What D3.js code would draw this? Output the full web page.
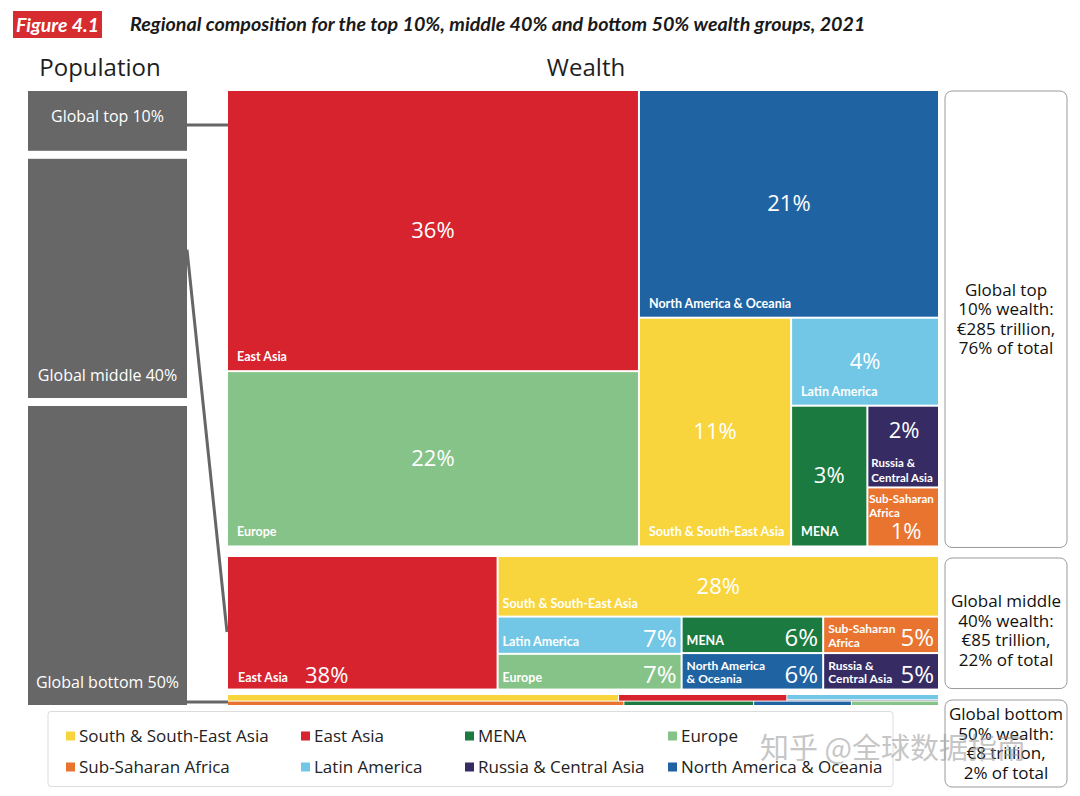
<!DOCTYPE html>
<html>
<head>
<meta charset="utf-8">
<script src="https://cdn.jsdelivr.net/npm/d3@7"></script>
<style>
  body { margin: 0; background: #fff; }
  svg { display: block; font-family: "Open Sans", sans-serif; }
</style>
</head>
<body>
<svg id="chart" width="1080" height="796"></svg>
<script>
// ---- data ----
// regions in legend order
var regions = ["South & South-East Asia", "East Asia", "MENA", "Europe",
  "Sub-Saharan Africa", "Latin America", "Russia & Central Asia", "North America & Oceania"];
var regionColors = ["#f8d53c", "#d7232e", "#1b7a40", "#86c388",
  "#e8742f", "#72c7e7", "#362c63", "#1f63a3"];

// population groups and their share of wealth
var groups = ["Global top 10%", "Global middle 40%", "Global bottom 50%"];
var popShare = [10, 40, 50];
var wealthShare = [76, 22, 2];
var wealthNotes = [
  ["Global top", "10% wealth:", "€285 trillion,", "76% of total"],
  ["Global middle", "40% wealth:", "€85 trillion,", "22% of total"],
  ["Global bottom", "50% wealth:", "€8 trillion,", "2% of total"]
];

// top 10%: regional composition of wealth (%)
var topRegions = ["East Asia", "Europe", "North America & Oceania", "South & South-East Asia",
  "Latin America", "MENA", "Russia & Central Asia", "Sub-Saharan Africa"];
var topShare = [35.6, 22.2, 21.0, 10.7, 4.0, 3.3, 1.8, 1.3];
var topTree = [[0, 1], [2, [3, [4, [5, [6, 7]]]]]];

// middle 40%
var midRegions = ["East Asia", "South & South-East Asia", "Latin America", "Europe",
  "MENA", "North America & Oceania", "Sub-Saharan Africa", "Russia & Central Asia"];
var midShare = [38.49, 28.49, 7.3, 7.0, 5.5, 5.5, 4.5, 4.5];
var midTree = [0, [1, [[2, 3], [4, 5], [6, 7]]]];

// bottom 50% (too thin for labels)
var botRegions = ["South & South-East Asia", "East Asia", "Latin America", "Russia & Central Asia",
  "Sub-Saharan Africa", "MENA", "North America & Oceania", "Europe"];
var botShare = [33, 14.2, 10.3, 2.5, 22.3, 7.3, 5.5, 4.9];
var botTree = [[0, 1, [2, 3]], [4, 5, 6, 7]];

// ---- layout ----
var svg = d3.select("#chart");
var color = d3.scaleOrdinal().domain(regions).range(regionColors);

var popX0 = 28, popX1 = 187;
var treeX0 = 228, treeX1 = 938;
var noteX0 = 945, noteX1 = 1067;
var bandTop = [91, 557, 695];

var popScale = d3.scaleLinear().domain([0, 100]).range([0, 598]);
var wealthScale = d3.scaleLinear().domain([0, 100]).range([0, 598]);

var twoLines = {
  "Russia & Central Asia": ["Russia &", "Central Asia"],
  "Sub-Saharan Africa": ["Sub-Saharan", "Africa"],
  "North America & Oceania": ["North America", "& Oceania"]
};
var pct = function (v) { return Math.round(v) + "%"; };

// title
svg.append("rect").attr("x", 13).attr("y", 11).attr("width", 89).attr("height", 27).attr("fill", "#d62b2f");
svg.append("text").attr("x", 57.5).attr("y", 31.5).attr("text-anchor", "middle")
  .style("font-family", "Lato").style("font-weight", 700).style("font-style", "italic")
  .style("font-size", "19.5px").attr("fill", "#fff").text("Figure 4.1");
svg.append("text").attr("x", 130).attr("y", 31)
  .style("font-family", "Lato").style("font-weight", 700).style("font-style", "italic")
  .style("font-size", "19.7px").attr("fill", "#1a1a1a")
  .text("Regional composition for the top 10%, middle 40% and bottom 50% wealth groups, 2021");

// headings
svg.append("text").attr("x", 100).attr("y", 76).attr("text-anchor", "middle")
  .style("font-size", "24px").style("font-weight", 500).attr("fill", "#1e1e1e").text("Population");
svg.append("text").attr("x", 586).attr("y", 76).attr("text-anchor", "middle")
  .style("font-size", "24px").style("font-weight", 500).attr("fill", "#1e1e1e").text("Wealth");

// population boxes
var popBoxes = [];
var py = 91;
popShare.forEach(function (p, i) {
  popBoxes.push({ name: groups[i], y0: py, y1: py + popScale(p) });
  py += popScale(p) + 8;
});

// wealth bands
var bands = wealthShare.map(function (w, i) {
  return { y0: bandTop[i], y1: bandTop[i] + wealthScale(w) };
});
bands[2].y1 = bands[2].y0 + 10;

// connectors
var conn = svg.append("g").attr("stroke", "#666").attr("stroke-width", 3).attr("fill", "none");
conn.append("line").attr("x1", popX1).attr("x2", treeX0)
  .attr("y1", 125).attr("y2", 125);
conn.append("line").attr("x1", popX1).attr("x2", treeX0 - 1)
  .attr("y1", popBoxes[1].y0 + 0.38 * (popBoxes[1].y1 - popBoxes[1].y0))
  .attr("y2", bands[1].y0 + 0.57 * (bands[1].y1 - bands[1].y0));
conn.append("line").attr("x1", popX1).attr("x2", treeX0)
  .attr("y1", (bands[2].y0 + bands[2].y1) / 2 + 2).attr("y2", (bands[2].y0 + bands[2].y1) / 2 + 2);

var pop = svg.append("g").selectAll("g").data(popBoxes).enter().append("g");
pop.append("rect")
  .attr("x", popX0).attr("y", function (d) { return d.y0; })
  .attr("width", popX1 - popX0).attr("height", function (d) { return d.y1 - d.y0; })
  .attr("fill", "#676767");
pop.append("text")
  .attr("x", (popX0 + popX1) / 2)
  .attr("y", function (d, i) { return i === 0 ? (d.y0 + d.y1) / 2 + 1 : d.y1 - 17; })
  .attr("text-anchor", "middle").attr("fill", "#fff").style("font-size", "16px")
  .text(function (d) { return d.name; });

// treemap helpers
function buildTree(spec, names, values) {
  function node(s) {
    if (Array.isArray(s)) return { children: s.map(node) };
    return { name: names[s], value: values[s] };
  }
  return node(spec);
}

function layoutBand(spec, names, values, band, diceFirst, pad) {
  var root = d3.hierarchy(buildTree(spec, names, values))
    .sum(function (d) { return d.value || 0; });
  d3.treemap()
    .size([treeX1 - treeX0, band.y1 - band.y0])
    .paddingInner(pad)
    .tile(function (node, x0, y0, x1, y1) {
      var dice = (node.depth % 2 === 0) === diceFirst;
      (dice ? d3.treemapDice : d3.treemapSlice)(node, x0, y0, x1, y1);
    })(root);
  return root.leaves();
}

function drawBand(leaves, band) {
  var g = svg.append("g").attr("transform", "translate(" + treeX0 + "," + band.y0 + ")");
  var cell = g.selectAll("g").data(leaves).enter().append("g")
    .attr("transform", function (d) { return "translate(" + d.x0 + "," + d.y0 + ")"; });
  cell.append("rect")
    .attr("width", function (d) { return d.x1 - d.x0; })
    .attr("height", function (d) { return d.y1 - d.y0; })
    .attr("fill", function (d) { return color(d.data.name); });
  return cell;
}

function nameText(sel, x, y, lines, lh, size) {
  var t = sel.append("text").attr("x", x).attr("y", y).attr("fill", "#fff")
    .style("font-family", "Lato").style("font-weight", 700).style("font-size", size + "px");
  lines.forEach(function (l, i) {
    t.append("tspan").attr("x", x).attr("y", y + i * lh).text(l);
  });
}

function pctText(sel, x, y, anchor, size, v) {
  sel.append("text").attr("x", x).attr("y", y).attr("text-anchor", anchor)
    .attr("fill", "#fff").style("font-size", size + "px").text(pct(v));
}

// top band
var topCells = drawBand(layoutBand(topTree, topRegions, topShare, bands[0], true, 2), bands[0]);
topCells.each(function (d) {
  var s = d3.select(this), w = d.x1 - d.x0, h = d.y1 - d.y0;
  if (w * h > 8000) {
    pctText(s, w / 2, h / 2 + 7, "middle", 22, d.value);
    nameText(s, 9, h - 9, [d.data.name], 0, 12.5);
  } else if (d.data.name === "Russia & Central Asia") {
    pctText(s, w / 2 + 1, 31, "middle", 22, d.value);
    nameText(s, 3, 60, twoLines[d.data.name], 15, 11.5);
  } else {
    nameText(s, 1, 15, twoLines[d.data.name], 14, 11.5);
    pctText(s, w / 2 + 3, h - 6, "middle", 22, d.value);
  }
});

// middle band
var midCells = drawBand(layoutBand(midTree, midRegions, midShare, bands[1], true, 2), bands[1]);
midCells.each(function (d) {
  var s = d3.select(this), w = d.x1 - d.x0, h = d.y1 - d.y0;
  if (h > 100) {
    nameText(s, 10, h - 7, [d.data.name], 0, 12.5);
    pctText(s, 77, h - 6, "start", 22, d.value);
  } else if (h > 45) {
    pctText(s, w / 2, 37, "middle", 22, d.value);
    nameText(s, 4, h - 8, [d.data.name], 0, 12.5);
  } else {
    var lines = twoLines[d.data.name] || [d.data.name];
    nameText(s, 4, lines.length > 1 ? h - 19 : h - 7, lines, 13.5, lines.length > 1 ? 12 : 12.5);
    pctText(s, w - 4, h - 6, "end", 24, d.value);
  }
});

// bottom band
drawBand(layoutBand(botTree, botRegions, botShare, bands[2], false, 1), bands[2]);

// wealth notes on the right
var noteBoxes = [
  { y0: bands[0].y0, y1: bands[0].y1 + 2 },
  { y0: bands[1].y0 + 1, y1: bands[1].y1 },
  { y0: 700, y1: 787 }
];
var notes = svg.append("g").selectAll("g").data(noteBoxes).enter().append("g");
notes.append("rect")
  .attr("x", noteX0).attr("y", function (d) { return d.y0; })
  .attr("width", noteX1 - noteX0).attr("height", function (d) { return d.y1 - d.y0; })
  .attr("rx", 7).attr("fill", "#fff").attr("stroke", "#9a9a9a").attr("stroke-width", 1);
notes.append("text")
  .attr("text-anchor", "middle").attr("fill", "#111").style("font-size", "17px")
  .each(function (d, i) {
    var t = d3.select(this), mid = (d.y0 + d.y1) / 2 + (i === 1 ? 7 : 0);
    wealthNotes[i].forEach(function (l, j) {
      t.append("tspan").attr("x", (noteX0 + noteX1) / 2)
        .attr("y", mid + (j - 1.5) * 19.5 + 6).text(l);
    });
  });

// legend
svg.append("rect").attr("x", 48).attr("y", 711.5).attr("width", 845).attr("height", 75)
  .attr("rx", 3).attr("fill", "none").attr("stroke", "#dcdcdc");
var legX = [66, 301, 465, 668];
var legY = [736, 767];
var leg = svg.append("g").selectAll("g").data(regions).enter().append("g")
  .attr("transform", function (d, i) {
    return "translate(" + legX[i % 4] + "," + legY[Math.floor(i / 4)] + ")";
  });
leg.append("rect").attr("x", 0).attr("y", -4.5).attr("width", 9).attr("height", 9)
  .attr("fill", function (d) { return color(d); });
leg.append("text").attr("x", 13).attr("y", 6).attr("fill", "#222")
  .style("font-size", "17px").text(function (d) { return d; });

// watermark
svg.append("text").attr("x", 760).attr("y", 759)
  .style("font-family", "Noto Sans CJK SC").style("font-size", "29px")
  .attr("fill", "#999").attr("opacity", 0.55).text("知乎 @全球数据指南");
</script>
</body>
</html>
